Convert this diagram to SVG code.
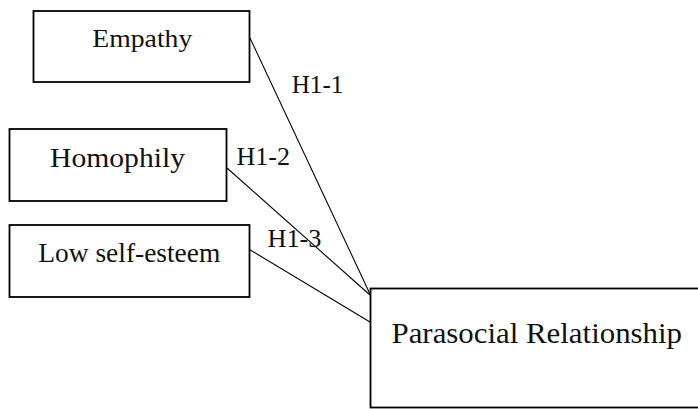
<svg xmlns="http://www.w3.org/2000/svg" width="698" height="409" viewBox="0 0 698 409">
<style>
.box{fill:#fff;stroke:#000;stroke-width:1.8}
.lbl{font-family:"Liberation Serif","Times New Roman",serif;fill:#111}
.edge{stroke:#000;stroke-width:1.1;fill:none}
</style>
<rect width="698" height="409" fill="#fff"/>
<g id="connectors">
<line class="edge" x1="250" y1="38" x2="370" y2="294"/>
<line class="edge" x1="227" y1="168" x2="370" y2="295"/>
<line class="edge" x1="247" y1="248" x2="370" y2="322"/>
<text class="lbl" x="291.7" y="93.3" font-size="25" textLength="51.7" lengthAdjust="spacingAndGlyphs">H1-1</text>
<text class="lbl" x="236.5" y="165" font-size="25" textLength="53.5" lengthAdjust="spacingAndGlyphs">H1-2</text>
<text class="lbl" x="267.5" y="246.7" font-size="25" textLength="54" lengthAdjust="spacingAndGlyphs">H1-3</text>
</g>
<g id="empathy">
<rect class="box" x="33.5" y="11" width="216" height="71"/>
<text class="lbl" x="92.3" y="47.3" font-size="26" textLength="100" lengthAdjust="spacingAndGlyphs">Empathy</text>
</g>
<g id="homophily">
<rect class="box" x="9.5" y="129" width="217" height="72"/>
<text class="lbl" x="50" y="167.3" font-size="27.5" textLength="135" lengthAdjust="spacingAndGlyphs">Homophily</text>
</g>
<g id="low-self-esteem">
<rect class="box" x="9.5" y="225" width="240" height="72"/>
<text class="lbl" x="38.3" y="261.5" font-size="27.5" textLength="182" lengthAdjust="spacingAndGlyphs">Low self-esteem</text>
</g>
<g id="parasocial">
<rect class="box" x="370.5" y="288.5" width="340" height="119"/>
<text class="lbl" x="391.5" y="343" font-size="29" textLength="290.5" lengthAdjust="spacingAndGlyphs">Parasocial Relationship</text>
</g>
</svg>
